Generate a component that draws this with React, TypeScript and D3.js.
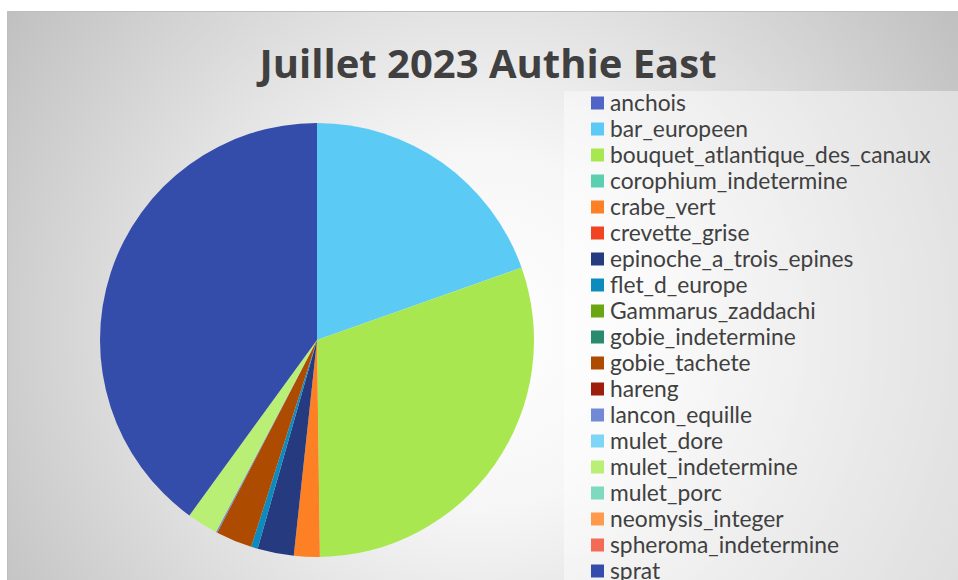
import React from "react";
import * as d3 from "d3";

const title = "Juillet 2023 Authie East";

const categories = [
  "anchois",
  "bar_europeen",
  "bouquet_atlantique_des_canaux",
  "corophium_indetermine",
  "crabe_vert",
  "crevette_grise",
  "epinoche_a_trois_epines",
  "flet_d_europe",
  "Gammarus_zaddachi",
  "gobie_indetermine",
  "gobie_tachete",
  "hareng",
  "lancon_equille",
  "mulet_dore",
  "mulet_indetermine",
  "mulet_porc",
  "neomysis_integer",
  "spheroma_indetermine",
  "sprat",
];

// percentage shares
const values = [
  0, 19.6, 30.2, 0, 1.92, 0, 2.7, 0.5, 0, 0, 2.7, 0, 0.1, 0, 2.3, 0, 0, 0, 40.0,
];

const colors = [
  "#5064C8",
  "#5BCBF5",
  "#A9E751",
  "#5CCFB0",
  "#FD8024",
  "#F04523",
  "#263A80",
  "#0E8BBE",
  "#6AA612",
  "#298A6E",
  "#AD4B00",
  "#9E1D0B",
  "#7289D6",
  "#7DD6F5",
  "#BAEF75",
  "#7DDABE",
  "#FF9A4D",
  "#F36A55",
  "#344DAA",
];

export default function App() {
  const W = 958;
  const H = 580;
  const cx = 317;
  const cy = 340;
  const r = 217;

  const data = categories.map((c, i) => ({ name: c, value: values[i], color: colors[i] }));
  const pie = d3.pie<any>().value((d: any) => d.value).sort(null);
  const arcs = pie(data);
  const arcGen = d3.arc<any>().innerRadius(0).outerRadius(r);

  const legendY = d3
    .scalePoint<string>()
    .domain(categories)
    .range([103, 103 + 26 * (categories.length - 1)]);

  return (
    <svg
      width={W}
      height={H}
      style={{ position: "absolute", left: 0, top: 0, display: "block" }}
    >
      <defs>
        <radialGradient id="bg" gradientUnits="userSpaceOnUse" cx={480} cy={330} r={600}>
          <stop offset="0" stopColor="#ffffff" />
          <stop offset="0.3" stopColor="#f6f6f6" />
          <stop offset="1" stopColor="#bcbcbc" />
        </radialGradient>
      </defs>
      <rect x={0} y={0} width={W} height={H} fill="#ffffff" />
      <rect x={7.5} y={11.5} width={1100} height={700} fill="url(#bg)" stroke="#bfbfbf" strokeWidth={1} />
      <text
        x={488}
        y={78}
        textAnchor="middle"
        fontFamily="'Open Sans', sans-serif"
        fontWeight={700}
        fontSize={40}
        fill="#404040"
      >
        {title}
      </text>
      <g transform={`translate(${cx},${cy})`}>
        {arcs.map((a: any, i: number) => (
          <path key={i} d={arcGen(a) || ""} fill={a.data.color} />
        ))}
      </g>
      <rect x={564} y={91} width={500} height={600} fill="#ffffff" fillOpacity={0.45} />
      <g>
        {categories.map((c, i) => (
          <g key={c} transform={`translate(0,${legendY(c)})`}>
            <rect x={591} y={-6.5} width={13} height={13} fill={colors[i]} />
            <text
              x={610}
              y={0}
              dy="0.36em"
              fontFamily="Lato, sans-serif"
              fontSize={22.8}
              fill="#404040"
            >
              {c}
            </text>
          </g>
        ))}
      </g>
    </svg>
  );
}
